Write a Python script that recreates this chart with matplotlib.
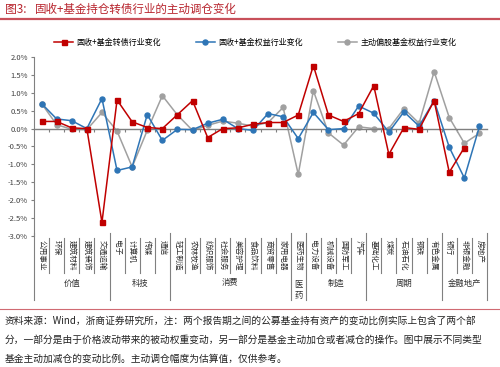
"""Active position changes by industry: fixed-income+ funds vs active equity funds."""
import numpy as np
import matplotlib
matplotlib.use("Agg")
import matplotlib.pyplot as plt
import matplotlib.transforms as mtransforms

plt.rcParams['font.family'] = ['Noto Sans CJK SC', 'DejaVu Sans']

categories = ["公用事业", "环保", "建筑材料", "建筑装饰", "交通运输",
              "电子", "计算机", "传媒", "通信",
              "轻工制造", "农林牧渔", "纺织服饰", "社会服务", "美容护理", "食品饮料", "商贸零售", "家用电器",
              "医药生物",
              "电力设备", "机械设备", "国防军工", "汽车",
              "基础化工", "煤炭", "石油石化", "钢铁", "有色金属",
              "银行", "非银金融", "房地产"]
group_names = ["价值", "科技", "消费", "医药", "制造", "周期", "金融地产"]
group_sizes = [5, 4, 8, 1, 4, 5, 3]

# values in %
convertible = [0.20, 0.20, 0.02, 0.00, -2.62, 0.80, 0.19, 0.03, 0.00, 0.39,
               0.78, -0.25, 0.00, 0.02, 0.12, 0.17, 0.17, 0.38, 1.76, 0.38,
               0.20, 0.42, 1.20, -0.72, 0.03, -0.02, 0.78, -1.22, -0.53, np.nan]
fi_equity = [0.70, 0.27, 0.22, 0.00, 0.84, -1.17, -1.07, 0.39, -0.33, -0.02,
             -0.03, 0.15, 0.26, 0.00, -0.05, 0.42, 0.33, -0.28, 0.45, -0.03,
             0.00, 0.63, 0.43, -0.10, 0.47, 0.07, 0.78, -0.52, -1.38, 0.06]
active_equity = [0.70, 0.11, -0.02, -0.03, 0.45, -0.07, -1.07, -0.05, 0.92, 0.38,
                 -0.05, 0.09, 0.21, 0.15, 0.07, 0.17, 0.59, -1.28, 1.06, -0.12,
                 -0.46, 0.05, 0.00, 0.00, 0.56, 0.15, 1.59, 0.31, -0.41, -0.13]
series_labels = ["固收+基金转债行业变化", "固收+基金权益行业变化", "主动偏股基金权益行业变化"]
yticks = [2.0, 1.5, 1.0, 0.5, 0.0, -0.5, -1.0, -1.5, -2.0, -2.5, -3.0]

W, H = 500, 367
fig = plt.figure(figsize=(W / 100, H / 100), dpi=100)


def fy(px):
    return 1 - px / H


ax = fig.add_axes([34 / W, fy(236), (487 - 34) / W, (236 - 57) / H])
x = np.arange(len(categories))

ax.plot(x, convertible, color="#c00000", lw=1.1, marker="s", ms=3.6, label=series_labels[0], zorder=4)
ax.plot(x, fi_equity, color="#2e75b6", lw=1.1, marker="o", ms=3.6, label=series_labels[1], zorder=3)
ax.plot(x, active_equity, color="#a0a0a0", lw=1.1, marker="o", ms=3.6, label=series_labels[2], zorder=2)

ax.set_xlim(-0.5, len(categories) - 0.5)
ax.set_ylim(-3, 2)
ax.set_yticks(yticks)
ax.set_yticklabels([f"{v:.1f}%" for v in yticks], fontsize=5.5, color="#404040")
ax.tick_params(axis="y", direction="out", length=2.5, color="#808080", pad=2)

for s in ["top", "right"]:
    ax.spines[s].set_visible(False)
ax.spines["left"].set_color("#808080")
ax.spines["bottom"].set_position(("data", 0))
ax.spines["bottom"].set_color("#7f7f7f")
ax.spines["bottom"].set_linewidth(1.0)
ax.set_xticks(x[:-1] + 0.5)
ax.set_xticklabels([])
ax.tick_params(axis="x", direction="out", length=2.5, color="#7f7f7f")

# category labels and separators below the plot
trans = mtransforms.blended_transform_factory(ax.transData, fig.transFigure)
for i, name in enumerate(categories):
    ax.text(i, fy(240), name, transform=trans, rotation=270, ha="center", va="top",
            fontsize=5.5, color="#303030")

bounds = np.cumsum([0] + group_sizes) - 0.5
for b in np.arange(-0.5, len(categories), 1.0):
    long_line = np.any(np.isclose(bounds, b))
    y0, y1 = (233, 300) if long_line else (238, 273)
    ax.plot([b, b], [fy(y0), fy(y1)], transform=trans, color="#808080", lw=0.8, clip_on=False)

for k, gname in enumerate(group_names):
    cx = (bounds[k] + bounds[k + 1]) / 2
    if group_sizes[k] == 1:
        ax.text(cx, fy(279), "\n".join(gname), transform=trans, ha="center", va="top",
                fontsize=6, color="#303030", linespacing=1.4)
    else:
        ax.text(cx, fy(283), gname, transform=trans, ha="center", va="center",
                fontsize=6, color="#303030")

fig.legend(loc="center", bbox_to_anchor=(0.51, fy(42)), ncol=3, frameon=False,
           fontsize=5.8, handlelength=2.4, handletextpad=0.4, columnspacing=4.3)

# header and footer
fig.text(5 / W, fy(9), "图3:", fontsize=8.5, color="#b8262f", va="center")
fig.text(35 / W, fy(9), "固收+基金持仓转债行业的主动调仓变化", fontsize=8.3,
         color="#b8262f", va="center")
fig.add_artist(plt.Line2D([0, 1], [fy(19), fy(19)], color="#c8505a", lw=1.6))
fig.add_artist(plt.Line2D([0, 1], [fy(309), fy(309)], color="#d06a72", lw=0.8))

notes = ["资料来源：Wind，浙商证券研究所，注：两个报告期之间的公募基金持有资产的变动比例实际上包含了两个部",
         "分，一部分是由于价格波动带来的被动权重变动，另一部分是基金主动加仓或者减仓的操作。图中展示不同类型",
         "基金主动加减仓的变动比例。主动调仓幅度为估算值，仅供参考。"]
for j, line in enumerate(notes):
    fig.text(5 / W, fy(321 + 19 * j), line, fontsize=7, color="#222222", va="center")

fig.savefig("out.png", dpi=100)
